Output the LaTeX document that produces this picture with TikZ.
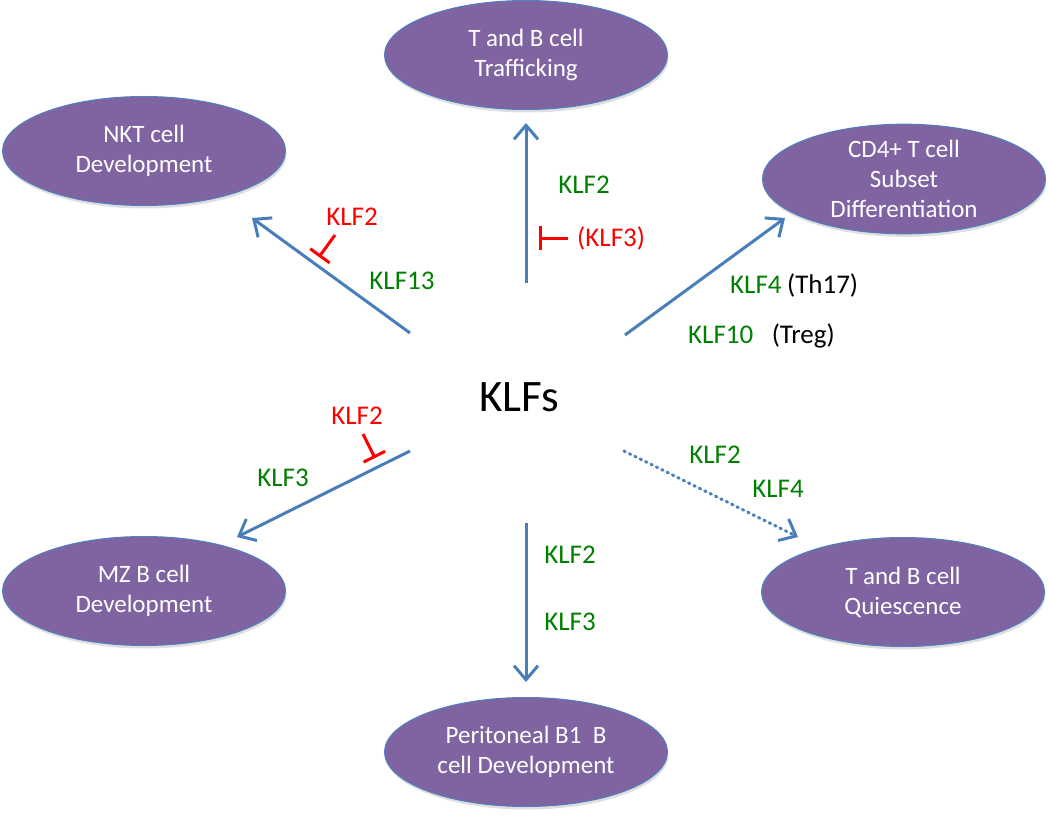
\documentclass[tikz,border=0pt]{standalone}
\usepackage{fontspec}
\setmainfont{Carlito}
\usetikzlibrary{arrows.meta,shapes.geometric,shadows,positioning}
\definecolor{cellfill}{HTML}{8064A2}
\definecolor{cellline}{HTML}{4F81BD}
\definecolor{linkblue}{HTML}{4A7EBB}
\definecolor{klfgreen}{HTML}{008000}
\definecolor{klfred}{HTML}{FF0000}
\begin{document}
\begin{tikzpicture}[x=1pt,y=-1pt,
		cell/.style={ellipse,draw=cellline,line width=1pt,fill=cellfill,text=white,
			minimum width=283pt,minimum height=109pt,inner sep=0pt,align=center,
			font=\fontsize{25}{30}\selectfont,
			drop shadow={opacity=0.25,shadow xshift=1pt,shadow yshift=-3pt}},
		link/.style={draw=linkblue,line width=3pt,-{Straight Barb[length=14pt,width=24pt]}},
		block/.style={draw=klfred,line width=3pt,-{Bar[width=24pt]}},
		lab/.style={font=\fontsize{27}{32}\selectfont,inner sep=0pt}]
			\useasboundingbox (0,0) rectangle (1050,816);
			\node[cell] (traffic) at (526,55) {T and B cell\\Trafficking};
			\node[cell] (nkt) at (144,151) {NKT cell\\Development};
			\node[cell] (cd4) at (904,179) {CD4+ T cell\\Subset\\Differentiation};
			\node[cell] (mzb) at (144,591) {MZ B cell\\Development};
			\node[cell] (quiet) at (903,592) {T and B cell\\Quiescence};
			\node[cell] (bone) at (526,752) {Peritoneal B1~ B\\cell Development};
			\node[font=\fontsize{45}{54}\selectfont,inner sep=0pt] (klfs) at (519,397) {KLFs};
			\coordinate (up0) at (526,283);
			\coordinate (up1) at (526,123);
			\coordinate (nw0) at (410,333);
			\coordinate (nw1) at (252,218);
			\coordinate (ne0) at (625,335);
			\coordinate (ne1) at (785,218);
			\coordinate (sw0) at (410,451);
			\coordinate (sw1) at (237,537);
			\coordinate (se0) at (624,451);
			\coordinate (se1) at (798,537);
			\coordinate (dn0) at (526,523);
			\coordinate (dn1) at (526,682);
			\draw[link] (up0) -- (up1);
			\draw[link] (nw0) -- (nw1);
			\draw[link] (ne0) -- (ne1);
			\draw[link] (sw0) -- (sw1);
			\draw[link,dash pattern=on 1.5pt off 4.5pt,line cap=round] (se0) -- (se1);
			\draw[link] (dn0) -- (dn1);
			\coordinate (bt0) at (335,235);
			\coordinate (bt1) at (319,257);
			\coordinate (bu0) at (568,238);
			\coordinate (bu1) at (539,238);
			\coordinate (bm0) at (363,434);
			\coordinate (bm1) at (375,458);
			\draw[block] (bt0) -- (bt1);
			\draw[block] (bu0) -- (bu1);
			\draw[block] (bm0) -- (bm1);
			\node[lab,text=klfgreen] (upa) at (584,185) {KLF2};
			\node[lab,text=klfred,anchor=west] (upb) at (577,238) {(KLF3)};
			\node[lab,text=klfred] (nwa) at (352,217) {KLF2};
			\node[lab,text=klfgreen] (nwb) at (402,281) {KLF13};
			\node[lab,text=klfgreen,anchor=base west] (nea) at (730,293) {KLF4};
			\node[lab,right=5pt of nea.base east,anchor=base west] (th) {(Th17)};
			\node[lab,text=klfgreen,anchor=base west] (neb) at (688,343) {KLF10};
			\node[lab,right=18pt of neb.base east,anchor=base west] (treg) {(Treg)};
			\node[lab,text=klfred] (swa) at (357,416) {KLF2};
			\node[lab,text=klfgreen] (swb) at (283,478) {KLF3};
			\node[lab,text=klfgreen] (sea) at (715,455) {KLF2};
			\node[lab,text=klfgreen] (seb) at (778,489) {KLF4};
			\node[lab,text=klfgreen] (dna) at (570,555) {KLF2};
			\node[lab,text=klfgreen] (dnb) at (570,622) {KLF3};
		\end{tikzpicture}
\end{document}
